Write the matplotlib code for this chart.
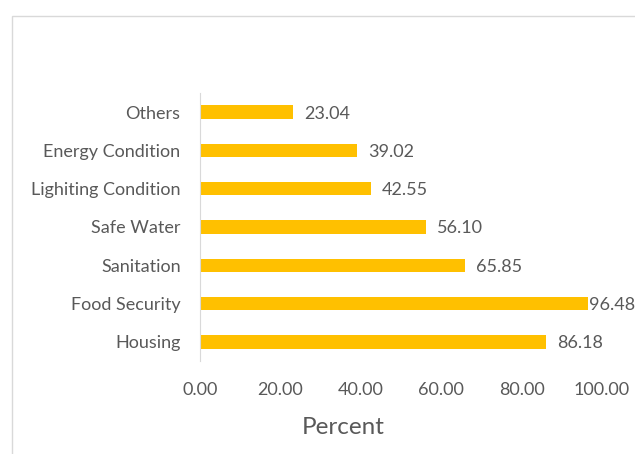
import matplotlib
matplotlib.use("Agg")
import matplotlib.pyplot as plt
import matplotlib.patches as patches

categories = ["Housing", "Food Security", "Sanitation", "Safe Water",
              "Lighiting Condition", "Energy Condition", "Others"]
values = [86.18, 96.48, 65.85, 56.10, 42.55, 39.02, 23.04]
xticks = [0, 20, 40, 60, 80, 100]

text_color = "#595959"
bar_color = "#FFC000"

plt.rcParams["font.family"] = ["Lato", "DejaVu Sans"]

fig = plt.figure(figsize=(6.35, 4.54), dpi=100)
ax = fig.add_axes([200 / 635, 1 - 361 / 454, 402 / 635, 268 / 454])

ypos = list(range(len(categories)))
ax.barh(ypos, values, height=0.35, color=bar_color)
ax.set_ylim(-0.5, len(categories) - 0.5)
ax.set_xlim(0, 100)

for y, v in zip(ypos, values):
    pad = 1 if v > 95 else 8
    ax.annotate(f"{v:.2f}", (v, y), xytext=(pad, -1), textcoords="offset points",
                va="center", ha="left", fontsize=13, color=text_color)

ax.set_yticks(ypos)
ax.set_yticklabels(categories, fontsize=13, color=text_color)
ax.set_xticks(xticks)
ax.set_xticklabels([f"{t:.2f}" for t in xticks], fontsize=13, color=text_color)
ax.tick_params(axis="both", length=0)
ax.tick_params(axis="y", pad=14)
ax.tick_params(axis="x", pad=15)
fig.text(343 / 635, 1 - 427 / 454, "Percent", fontsize=17.5, color=text_color,
         ha="center", va="center")

for s in ["top", "right", "bottom"]:
    ax.spines[s].set_visible(False)
ax.spines["left"].set_color("#d9d9d9")

frame = patches.Rectangle((12 / 635, -0.01), 1.0, 1 - 16 / 454 + 0.01,
                          transform=fig.transFigure, fill=False,
                          edgecolor="#d9d9d9", linewidth=1)
fig.patches.append(frame)

fig.savefig("out.png", dpi=100)
